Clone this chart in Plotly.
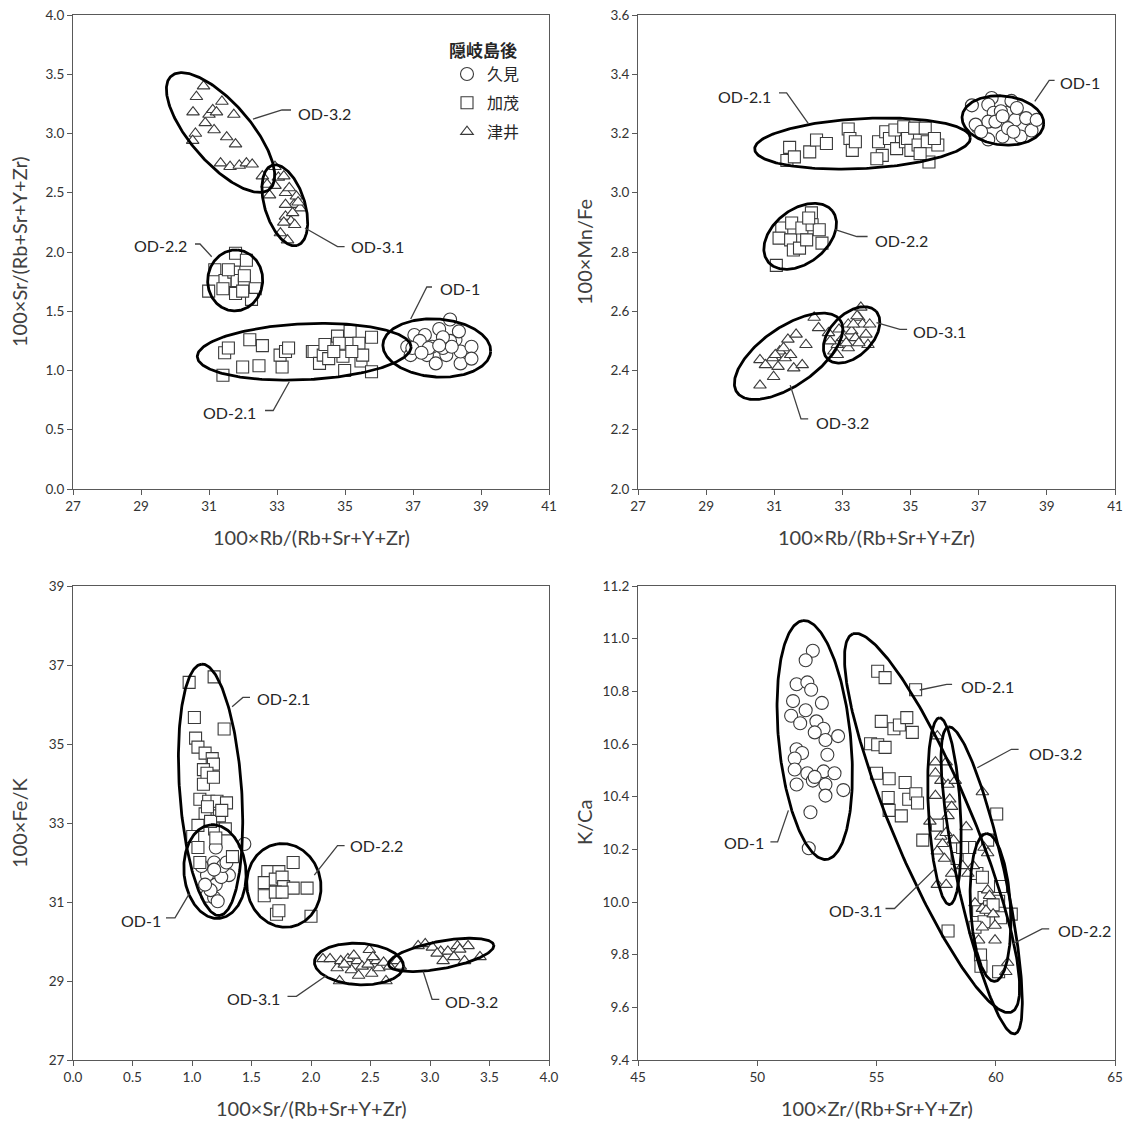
import numpy as np
import plotly.graph_objects as go

FONT = "Lato, 'Noto Sans CJK JP', sans-serif"
W, H, OFF = 1124, 1121, 0

# ---------------- data ----------------
# Panel 1: 100xSr/(Rb+Sr+Y+Zr) vs 100xRb/(Rb+Sr+Y+Zr)
p1_od1_x = [37.04, 36.83, 36.93, 37.35, 37.20, 37.41, 37.67, 37.77, 37.98, 38.09, 38.25, 38.35, 38.40, 38.40, 38.72, 38.72, 37.56, 37.88, 38.09, 36.98, 37.46, 38.14, 37.88, 37.25, 37.77]
p1_od1_y = [1.30, 1.20, 1.13, 1.30, 1.25, 1.13, 1.06, 1.35, 1.13, 1.43, 1.26, 1.33, 1.06, 1.16, 1.20, 1.10, 1.20, 1.19, 1.25, 1.19, 1.19, 1.20, 1.28, 1.15, 1.21]
p1_od21_x = [31.41, 31.46, 31.57, 32.20, 32.57, 31.99, 32.47, 33.15, 33.09, 33.25, 33.34, 34.04, 34.09, 34.25, 34.36, 34.41, 34.52, 34.78, 34.83, 34.94, 34.99, 35.15, 35.41, 35.47, 35.52, 35.78, 35.78, 34.67, 35.20]
p1_od21_y = [0.96, 1.15, 1.19, 1.26, 1.21, 1.03, 1.04, 1.03, 1.13, 1.16, 1.19, 1.16, 1.16, 1.06, 1.13, 1.22, 1.10, 1.29, 1.23, 1.12, 1.00, 1.33, 1.23, 1.08, 1.13, 1.28, 0.99, 1.16, 1.16]
p1_od22_x = [31.78, 32.10, 31.17, 31.47, 31.73, 31.83, 30.99, 31.41, 31.78, 32.04, 32.36, 32.25, 31.99, 31.57, 32.04]
p1_od22_y = [1.99, 1.93, 1.85, 1.76, 1.83, 1.76, 1.67, 1.69, 1.65, 1.73, 1.69, 1.60, 1.67, 1.85, 1.80]
p1_od31_x = [32.94, 32.57, 32.71, 32.78, 33.04, 33.20, 32.94, 33.25, 33.36, 33.57, 33.50, 33.25, 33.68, 33.25, 33.41, 33.52, 33.20, 33.10, 33.31, 33.46, 33.62]
p1_od31_y = [2.72, 2.64, 2.57, 2.48, 2.63, 2.64, 2.56, 2.50, 2.54, 2.47, 2.40, 2.40, 2.37, 2.30, 2.26, 2.23, 2.25, 2.16, 2.10, 2.33, 2.42]
p1_od32_x = [30.84, 30.63, 30.53, 30.60, 30.52, 30.89, 31.00, 31.11, 31.15, 31.22, 31.38, 31.73, 31.52, 31.78, 31.34, 31.62, 31.89, 32.10, 32.27]
p1_od32_y = [3.40, 3.31, 3.18, 3.00, 2.94, 3.09, 3.16, 3.20, 3.03, 3.18, 3.27, 3.16, 2.97, 2.91, 2.75, 2.72, 2.73, 2.75, 2.74]

# Panel 2: 100xMn/Fe vs 100xRb/(Rb+Sr+Y+Zr)
p2_od1_x = [36.80, 36.96, 37.38, 37.28, 37.44, 37.28, 37.49, 37.28, 37.70, 37.81, 37.96, 38.07, 38.23, 38.39, 38.55, 38.70, 37.86, 37.65, 36.91, 38.12, 37.70, 38.02, 37.07]
p2_od1_y = [3.295, 3.223, 3.320, 3.297, 3.270, 3.240, 3.240, 3.180, 3.190, 3.270, 3.310, 3.246, 3.190, 3.252, 3.210, 3.246, 3.218, 3.275, 3.230, 3.286, 3.258, 3.206, 3.206]
p2_od21_x = [31.37, 31.45, 31.59, 32.04, 32.24, 32.53, 33.17, 33.22, 33.29, 33.38, 34.06, 34.17, 34.27, 34.38, 34.54, 34.59, 34.80, 34.85, 34.91, 35.01, 35.12, 35.22, 35.43, 35.49, 35.54, 35.80, 34.01, 35.28, 35.70]
p2_od21_y = [3.109, 3.153, 3.121, 3.138, 3.178, 3.166, 3.215, 3.183, 3.143, 3.172, 3.172, 3.126, 3.206, 3.183, 3.212, 3.149, 3.223, 3.172, 3.183, 3.143, 3.218, 3.161, 3.218, 3.172, 3.104, 3.161, 3.115, 3.132, 3.183]
p2_od22_x = [31.06, 31.22, 31.14, 31.51, 31.48, 31.56, 31.74, 31.81, 31.95, 32.09, 32.11, 32.32, 32.40, 32.01]
p2_od22_y = [2.755, 2.881, 2.847, 2.898, 2.841, 2.807, 2.813, 2.881, 2.841, 2.932, 2.892, 2.875, 2.830, 2.915]
p2_od31_x = [32.59, 32.75, 32.85, 32.85, 33.01, 33.17, 33.17, 33.27, 33.38, 33.48, 33.54, 33.59, 33.69, 33.75, 33.48, 33.11, 33.32, 33.43, 33.80, 32.90, 32.64]
p2_od31_y = [2.527, 2.465, 2.453, 2.487, 2.510, 2.476, 2.556, 2.533, 2.510, 2.579, 2.613, 2.556, 2.522, 2.487, 2.493, 2.493, 2.556, 2.584, 2.556, 2.539, 2.499]
p2_od32_x = [30.58, 30.98, 30.58, 30.74, 30.95, 31.11, 31.16, 31.32, 31.27, 31.40, 31.57, 31.64, 31.82, 31.93, 32.17, 32.30, 31.03, 31.48]
p2_od32_y = [2.350, 2.379, 2.436, 2.419, 2.442, 2.413, 2.465, 2.442, 2.476, 2.505, 2.408, 2.522, 2.419, 2.487, 2.579, 2.544, 2.453, 2.453]

# Panel 3: 100xFe/K vs 100xSr/(Rb+Sr+Y+Zr)
p3_od1_x = [1.44, 1.20, 1.186, 1.126, 1.20, 1.126, 1.186, 1.31, 1.246, 1.156, 1.216, 1.08, 1.26, 1.186, 1.29, 1.11]
p3_od1_y = [32.47, 32.38, 32.00, 31.68, 31.44, 31.16, 31.11, 31.68, 31.63, 31.30, 31.02, 31.91, 31.91, 31.82, 32.00, 31.44]
p3_od21_x = [0.976, 1.186, 1.02, 1.27, 1.03, 1.05, 1.11, 1.17, 1.18, 1.096, 1.126, 1.096, 1.18, 1.066, 1.14, 1.21, 1.29, 1.11, 1.23, 1.05, 1.19, 1.28, 1.006, 1.20, 1.05, 1.34, 1.066, 1.13, 1.156, 1.25]
p3_od21_y = [36.56, 36.70, 35.67, 35.38, 35.15, 34.92, 34.77, 34.63, 34.49, 34.35, 34.26, 33.98, 34.16, 33.60, 33.55, 33.55, 33.51, 33.23, 33.18, 32.94, 32.85, 32.85, 32.66, 32.62, 32.38, 32.15, 32.00, 33.41, 33.04, 33.32]
p3_od22_x = [1.637, 1.73, 1.85, 1.607, 1.70, 1.757, 1.77, 1.607, 1.70, 1.85, 1.967, 1.71, 2.00, 1.73, 1.757]
p3_od22_y = [31.77, 31.77, 32.00, 31.49, 31.58, 31.63, 31.39, 31.16, 31.25, 31.35, 31.35, 30.69, 30.64, 30.78, 31.25]
p3_od31_x = [2.10, 2.16, 2.22, 2.24, 2.25, 2.31, 2.34, 2.39, 2.40, 2.43, 2.48, 2.49, 2.51, 2.55, 2.57, 2.61, 2.63, 2.66, 2.72, 2.75, 2.28, 2.36, 2.52]
p3_od31_y = [29.56, 29.56, 29.33, 29.00, 29.51, 29.56, 29.28, 29.51, 29.14, 29.37, 29.42, 29.79, 29.19, 29.51, 29.33, 29.47, 29.00, 29.37, 29.51, 29.37, 29.42, 29.65, 29.61]
p3_od32_x = [2.90, 2.96, 3.02, 3.09, 3.11, 3.15, 3.20, 3.23, 3.29, 3.32, 3.42, 3.06, 3.25]
p3_od32_y = [29.89, 29.94, 29.85, 29.75, 29.51, 29.75, 29.61, 29.89, 29.51, 29.89, 29.61, 29.70, 29.80]

# Panel 4: K/Ca vs 100xZr/(Rb+Sr+Y+Zr)
p4_od1_x = [52.33, 52.03, 51.65, 52.10, 52.26, 51.50, 51.42, 51.80, 52.03, 52.71, 52.48, 52.78, 52.86, 53.39, 52.41, 51.65, 51.88, 51.57, 51.57, 51.65, 52.10, 52.78, 52.86, 53.24, 52.86, 52.94, 53.61, 52.23, 52.16, 52.33, 52.41]
p4_od1_y = [10.954, 10.918, 10.827, 10.834, 10.806, 10.763, 10.707, 10.679, 10.728, 10.756, 10.686, 10.658, 10.615, 10.630, 10.644, 10.580, 10.566, 10.545, 10.503, 10.446, 10.489, 10.496, 10.446, 10.489, 10.404, 10.559, 10.425, 10.341, 10.204, 10.461, 10.475]
p4_od21_x = [55.05, 55.36, 56.64, 54.75, 55.05, 55.36, 55.20, 55.73, 55.96, 56.27, 56.50, 55.00, 55.53, 55.49, 55.53, 56.20, 56.35, 56.65, 56.72, 56.04, 56.94, 57.55, 58.00, 58.38, 58.91, 60.04]
p4_od21_y = [10.876, 10.852, 10.806, 10.601, 10.597, 10.587, 10.686, 10.658, 10.672, 10.700, 10.644, 10.489, 10.468, 10.397, 10.348, 10.454, 10.390, 10.411, 10.376, 10.327, 10.235, 10.292, 9.890, 10.165, 10.207, 10.334]
p4_od22_x = [59.21, 59.44, 59.51, 59.28, 59.74, 59.51, 60.12, 60.20, 59.89, 59.36, 59.38, 60.12, 60.65, 59.13, 59.66, 60.20, 58.61]
p4_od22_y = [10.108, 10.094, 10.017, 9.968, 9.982, 9.925, 10.003, 10.059, 9.989, 9.799, 9.756, 9.735, 9.954, 9.904, 10.235, 9.940, 10.207]
p4_od31_x = [57.55, 57.47, 57.47, 57.70, 57.47, 57.24, 57.70, 57.55, 57.85, 57.55, 57.92, 57.92, 58.00, 58.07, 58.15, 58.00, 58.30, 57.77, 57.92, 58.15, 58.23]
p4_od31_y = [10.630, 10.531, 10.489, 10.461, 10.404, 10.306, 10.249, 10.193, 10.165, 10.066, 10.066, 10.531, 10.446, 10.390, 10.362, 10.327, 10.461, 10.221, 10.263, 10.108, 10.235]
p4_od32_x = [59.44, 58.76, 59.06, 59.51, 59.66, 59.13, 59.44, 59.59, 59.44, 59.89, 59.97, 59.28, 59.97, 60.50, 60.42, 58.61, 58.83, 59.66, 59.74]
p4_od32_y = [10.418, 10.285, 10.137, 10.207, 10.186, 9.996, 9.975, 9.968, 9.904, 9.954, 9.911, 9.855, 9.855, 9.770, 9.735, 10.137, 10.108, 10.045, 10.024]

legend_title = "隠岐島後"
site_names = ["久見", "加茂", "津井"]
x_titles = ["100×Rb/(Rb+Sr+Y+Zr)", "100×Rb/(Rb+Sr+Y+Zr)", "100×Sr/(Rb+Sr+Y+Zr)", "100×Zr/(Rb+Sr+Y+Zr)"]
y_titles = ["100×Sr/(Rb+Sr+Y+Zr)", "100×Mn/Fe", "100×Fe/K", "K/Ca"]

# ---------------- layout geometry (page pixels) ----------------
panels = [
    dict(box=(73, 549, 15, 489), xr=(27, 41), yr=(0, 4), dx=2, dy=0.5, yfmt=".1f", xfmt="d"),
    dict(box=(638, 1115, 15, 489), xr=(27, 41), yr=(2.0, 3.6), dx=2, dy=0.2, yfmt=".1f", xfmt="d"),
    dict(box=(73, 549, 586, 1060), xr=(0, 4), yr=(27, 39), dx=0.5, dy=2, yfmt="d", xfmt=".1f"),
    dict(box=(638, 1115, 586, 1060), xr=(45, 65), yr=(9.4, 11.2), dx=5, dy=0.2, yfmt=".1f", xfmt="d"),
]

def px(x):
    return (x - OFF) / W

def py(y):
    return 1 - (y - OFF) / H

# ellipse outlines: centre in data units, semi-axes in pixels, angle in degrees
ellipses = [
    [(37.70, 1.19, 54, 29, -4), (33.80, 1.158, 107, 28, 2.7), (31.77, 1.76, 30.5, 27.5, 85),
     (33.23, 2.394, 42, 20, -72.5), (31.34, 3.008, 75, 30, -49)],
    [(37.71, 3.244, 41, 24.5, -6), (33.59, 3.166, 108, 25, 3), (31.76, 2.853, 41, 27, 38),
     (33.27, 2.520, 34, 21, 45), (31.42, 2.448, 63, 29, 35)],
    [(1.193, 31.77, 47, 31, 95), (1.156, 33.84, 126, 31, 94), (1.772, 31.42, 42, 37, 100),
     (2.403, 29.43, 44.6, 20.7, -3), (3.094, 29.66, 53.5, 13.7, 10.6)],
    [(52.41, 10.615, 120, 36, 95.6), (57.33, 10.30, 205, 40, 112.8), (59.78, 9.979, 74, 20, 93.2),
     (57.85, 10.345, 93.5, 16, 93.1), (59.41, 10.082, 157, 24, 102.2)],
]

# group labels: text, x, y (page px), anchor, leader polyline
labels = [
    [("OD-3.2", 296, 113, "left", [(253, 119), (282, 110), (291, 110)]),
     ("OD-3.1", 349, 247, "left", [(305, 228), (337.5, 246.6), (344.6, 246.6)]),
     ("OD-2.2", 189, 245, "right", [(195, 244), (200, 244), (211.7, 256.7)]),
     ("OD-1", 437.5, 289, "left", [(410.7, 319), (426.8, 287), (432, 287)]),
     ("OD-2.1", 258, 412, "right", [(265, 410.5), (273.2, 410.5), (289.3, 381.8)])],
    [("OD-1", 1058, 82.8, "left", [(1034.8, 101.4), (1049.2, 80.4), (1054.6, 80.4)]),
     ("OD-2.1", 773, 96.3, "right", [(779, 92.9), (786.6, 92.9), (808.2, 123.3)]),
     ("OD-2.2", 873, 240, "left", [(835.2, 229.7), (856.8, 236.5), (867.6, 236.5)]),
     ("OD-3.1", 911, 331, "left", [(876.5, 322.6), (899.9, 329.4), (907.1, 329.4)]),
     ("OD-3.2", 814, 422, "left", [(790.2, 385.1), (801, 418.9), (808.2, 418.9)])],
    [("OD-2.1", 255.4, 698.5, "left", [(232.1, 706.7), (242.9, 697.4), (250, 697.4)]),
     ("OD-2.2", 348.2, 845.6, "left", [(314.3, 875.2), (337.5, 845.6), (344.6, 845.6)]),
     ("OD-1", 162.5, 920.4, "right", [(166, 917.8), (175, 917.8), (189.3, 893.7)]),
     ("OD-3.1", 282, 998.5, "right", [(287.5, 996.3), (296.4, 996.3), (326.8, 975.2)]),
     ("OD-3.2", 442.9, 1001.1, "left", [(423.2, 971.5), (432.1, 999.3), (439.3, 999.3)])],
    [("OD-2.1", 959.3, 686.3, "left", [(919.7, 690), (946.7, 684.4), (952.1, 684.4)]),
     ("OD-3.2", 1026.5, 753, "left", [(977.3, 767.8), (1011.4, 749.3), (1018.6, 749.3)]),
     ("OD-1", 765.8, 843, "right", [(770.4, 841.9), (777.6, 841.9), (788.4, 810.4)]),
     ("OD-3.1", 883.7, 910.4, "right", [(885.5, 908.5), (894.5, 908.5), (934.1, 869.6)]),
     ("OD-2.2", 1055.7, 930.7, "left", [(1013.2, 943.7), (1042, 928.9), (1049.2, 928.9)])],
]

series = [
    [(p1_od1_x, p1_od1_y, 0), (p1_od21_x, p1_od21_y, 1), (p1_od22_x, p1_od22_y, 1), (p1_od31_x, p1_od31_y, 2), (p1_od32_x, p1_od32_y, 2)],
    [(p2_od1_x, p2_od1_y, 0), (p2_od21_x, p2_od21_y, 1), (p2_od22_x, p2_od22_y, 1), (p2_od31_x, p2_od31_y, 2), (p2_od32_x, p2_od32_y, 2)],
    [(p3_od1_x, p3_od1_y, 0), (p3_od21_x, p3_od21_y, 1), (p3_od22_x, p3_od22_y, 1), (p3_od31_x, p3_od31_y, 2), (p3_od32_x, p3_od32_y, 2)],
    [(p4_od1_x, p4_od1_y, 0), (p4_od21_x, p4_od21_y, 1), (p4_od22_x, p4_od22_y, 1), (p4_od31_x, p4_od31_y, 2), (p4_od32_x, p4_od32_y, 2)],
]

symbols = ["circle", "square", "triangle-up"]
sizes = [13, 12, 11]

fig = go.Figure()
legend_done = set()
for i, grp in enumerate(series):
    sfx = "" if i == 0 else str(i + 1)
    for (xs, ys, k) in grp:
        show = (i == 0 and k not in legend_done)
        if show:
            legend_done.add(k)
        fig.add_trace(go.Scatter(
            x=xs, y=ys, mode="markers", xaxis="x" + sfx, yaxis="y" + sfx,
            name=site_names[k], legendgroup=site_names[k], showlegend=show, legendrank=k + 1,
            marker=dict(symbol=symbols[k], size=sizes[k], color="white",
                        line=dict(color="#3a3a3a", width=1.1)),
            hoverinfo="skip"))

t = np.linspace(0, 2 * np.pi, 241)
for i, ells in enumerate(ellipses):
    sfx = "" if i == 0 else str(i + 1)
    P = panels[i]
    x0, x1, y0, y1 = P["box"]
    sx = (x1 - x0) / (P["xr"][1] - P["xr"][0])
    sy = (y1 - y0) / (P["yr"][1] - P["yr"][0])
    for (cx, cy, a, b, th) in ells:
        r = np.deg2rad(th)
        u, v = a * np.cos(t), b * np.sin(t)
        ex = cx + (u * np.cos(r) - v * np.sin(r)) / sx
        ey = cy + (u * np.sin(r) + v * np.cos(r)) / sy
        fig.add_trace(go.Scatter(x=ex, y=ey, mode="lines", xaxis="x" + sfx, yaxis="y" + sfx,
                                 line=dict(color="black", width=2.8), showlegend=False,
                                 hoverinfo="skip"))

axis_common = dict(showline=True, linecolor="#595959", linewidth=1, mirror=True,
                   ticks="outside", ticklen=5, tickcolor="#595959", showgrid=False,
                   zeroline=False, automargin=False,
                   tickfont=dict(family=FONT, size=13.5, color="#333333"))

layout = dict(width=W, height=H, margin=dict(l=0, r=0, t=0, b=0, pad=0, autoexpand=False),
              paper_bgcolor="white", plot_bgcolor="white",
              font=dict(family=FONT, color="#262626"))
annotations = []
shapes = []
for i, P in enumerate(panels):
    sfx = "" if i == 0 else str(i + 1)
    x0, x1, y0, y1 = P["box"]
    layout["xaxis" + sfx] = dict(domain=[px(x0), px(x1)], anchor="y" + sfx, range=list(P["xr"]),
                                 dtick=P["dx"], tick0=P["xr"][0], tickformat=P["xfmt"], **axis_common)
    layout["yaxis" + sfx] = dict(domain=[py(y1), py(y0)], anchor="x" + sfx, range=list(P["yr"]),
                                 dtick=P["dy"], tick0=P["yr"][0], tickformat=P["yfmt"], **axis_common)
    xc = (x0 + x1) / 2
    annotations.append(dict(text=x_titles[i], x=px(xc), y=py(y1 + 48), xref="paper", yref="paper",
                            xanchor="center", yanchor="middle",
                            showarrow=False, font=dict(size=20, color="#404040", family=FONT)))
    annotations.append(dict(text=y_titles[i], x=px(x0 - 54), y=py((y0 + y1) / 2), xref="paper", yref="paper",
                            xanchor="center", yanchor="middle",
                            showarrow=False, textangle=-90, font=dict(size=20, color="#404040", family=FONT)))
    for (txt, tx, ty, anc, pts) in labels[i]:
        annotations.append(dict(text=txt, x=px(tx), y=py(ty), xref="paper", yref="paper", xanchor=anc,
                                yanchor="middle", showarrow=False,
                                font=dict(size=16, color="#262626", family=FONT)))
        path = "M " + " L ".join(f"{px(a):.5f},{py(b):.5f}" for a, b in pts)
        shapes.append(dict(type="path", path=path, xref="paper", yref="paper",
                           line=dict(color="#404040", width=1.3)))

layout["annotations"] = annotations
layout["shapes"] = shapes
layout["showlegend"] = True
layout["legend"] = dict(x=px(447), y=py(35), xanchor="left", yanchor="top",
                        bgcolor="rgba(0,0,0,0)", font=dict(size=16, family=FONT, color="#262626"),
                        title=dict(text="<b>" + legend_title + "</b>", font=dict(size=17, family=FONT)),
                        itemsizing="trace", traceorder="grouped", tracegroupgap=5)
fig.update_layout(**layout)

page_fix = ("document.documentElement.style.margin='0';document.documentElement.style.padding='0';"
            "document.body.style.margin='0';document.body.style.padding='0';"
            "document.body.style.overflow='hidden';")
fig.write_html("out.html", post_script=page_fix, config={"displayModeBar": False})
